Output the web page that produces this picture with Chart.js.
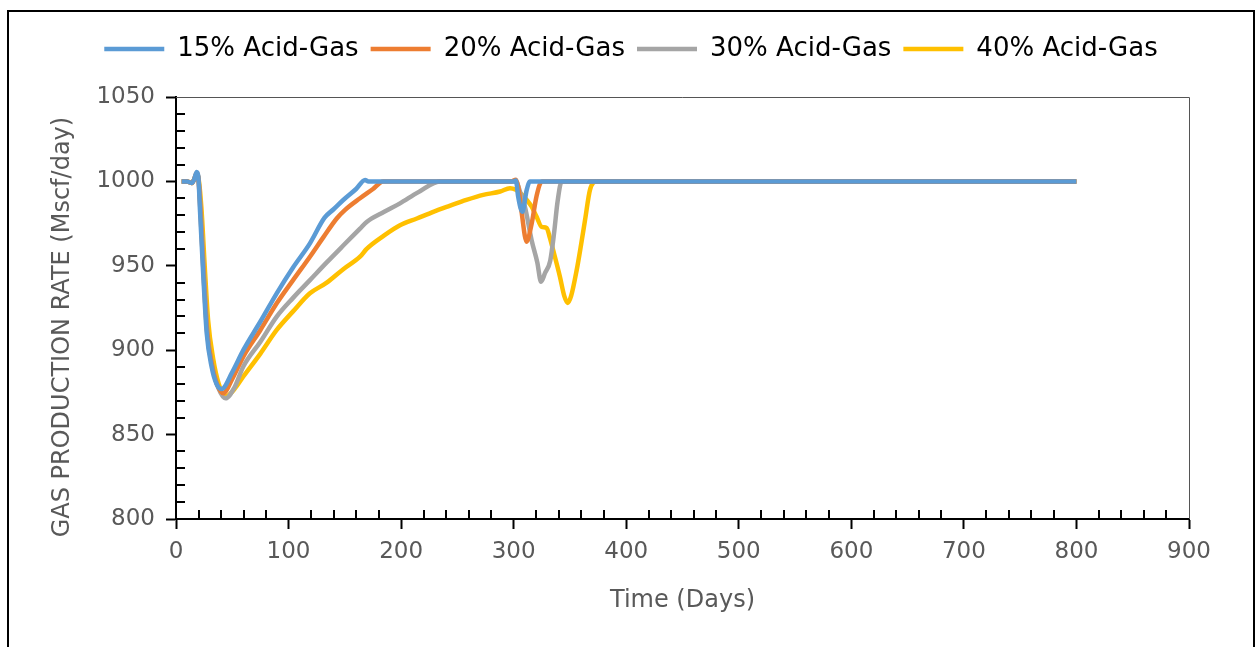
<!DOCTYPE html>
<html>
<head>
<meta charset="utf-8">
<script src="https://cdn.jsdelivr.net/npm/chart.js@4.4.1/dist/chart.umd.min.js"></script>
<style>
  html, body { margin: 0; padding: 0; background: #fff; overflow: hidden; }
  #frame { position: absolute; left: 7px; top: 10px; width: 1244px; height: 700px; border: 2px solid #000; }
  #chart { position: absolute; left: 0; top: 0; }
</style>
</head>
<body>
<div id="frame"></div>
<canvas id="chart" width="1262" height="647"></canvas>
<script>
// Gas production rate vs time
const seriesNames = ['15% Acid-Gas', '20% Acid-Gas', '30% Acid-Gas', '40% Acid-Gas'];
const seriesColors = ['#5B9BD5', '#ED7D31', '#A5A5A5', '#FFC000'];

const days15 = [5, 10, 12, 14, 16, 18.4, 19.8, 21.3, 24.3, 27.3, 31.7, 36, 40.6, 50, 59.8, 75, 89.5, 104, 119, 132, 140, 148.6, 160, 168, 171, 300, 302, 304, 307.7, 311.6, 314.5, 800];
const rate15 = [1000, 1000, 999.5, 999, 1001, 1005.5, 1003, 983, 943.5, 910, 890, 880, 877, 887, 900, 917, 933.7, 949, 963.3, 978.5, 983.5, 989, 995.5, 1000.8, 1000, 1000, 1000.5, 991, 982, 995, 1000, 1000];

const days20 = [5, 10, 12, 14, 16, 18.4, 19.8, 21.5, 24.5, 27.5, 32, 37, 42, 50, 59.8, 75, 89.5, 104, 119, 131, 142.8, 150, 163.5, 175, 184, 298, 302, 304, 307, 311.5, 316, 320.4, 325, 800];
const rate20 = [1000, 1000, 999.5, 999, 1001, 1005, 1002.5, 985, 945, 912, 891, 879, 874.5, 883, 896.2, 912, 927.8, 941.5, 955.4, 967, 978, 983, 990, 995.5, 1000, 1000, 1001, 997, 982, 964.3, 975, 991.5, 1000, 1000];

const days30 = [5, 10, 12, 14, 16, 18.4, 19.8, 22, 25, 28, 32.5, 38, 44, 52, 59.8, 75, 89.5, 104, 119, 133.9, 148.6, 163.5, 169.4, 185, 199, 215, 234.5, 300, 303, 306, 310, 316, 321, 324.3, 328, 332.5, 336, 339, 342.7, 800];
const rate30 = [1000, 1000, 999.5, 999, 1001, 1004.5, 1002.5, 982, 943, 910, 890, 877, 871.5, 878, 890.3, 905, 919.9, 931, 941.5, 952, 962, 972, 976, 982, 987, 993.5, 1000, 1000, 999, 993, 985, 965, 952, 940.6, 946, 953, 970, 988, 1000, 1000];

const days40 = [5, 10, 12, 14, 16, 18.4, 19.8, 22.5, 25.5, 28.5, 33, 38, 44, 52, 59.8, 75, 89.5, 104, 119, 133.9, 148.6, 163.5, 169.4, 185, 199, 214, 228.6, 243, 258, 273, 288, 296.7, 302, 306, 311.6, 316, 320.4, 324.9, 329.3, 332, 335.2, 341.1, 345, 348, 351, 356, 360, 363.4, 367.8, 373.7, 800];
const rate40 = [1000, 1000, 999.5, 999, 1001, 1004, 1002.5, 985, 950, 918, 895, 880, 872.5, 877, 884.4, 898, 912, 923, 933.7, 940, 948, 955.4, 960, 968, 974, 978, 982, 985.5, 989, 992, 994, 996, 995, 993, 989, 985, 979, 973, 972.4, 967, 959, 943.5, 932, 928, 932, 947.5, 963, 977, 995, 1000, 1000];

const xTicks = [0, 100, 200, 300, 400, 500, 600, 700, 800, 900];
const yTicks = [800, 850, 900, 950, 1000, 1050];

const allDays = [days15, days20, days30, days40];
const allRates = [rate15, rate20, rate30, rate40];

const datasets = seriesNames.map((name, i) => ({
  label: name,
  data: allDays[i].map((d, j) => ({ x: d, y: allRates[i][j] })),
  borderColor: seriesColors[i],
  backgroundColor: seriesColors[i],
  borderWidth: 4.5,
  pointRadius: 0,
  cubicInterpolationMode: 'monotone',
  fill: false
}));

// minor ticks inside the plot, plus thin top/right frame
const minorTicks = {
  id: 'minorTicks',
  afterDraw(chart) {
    const ctx = chart.ctx;
    const x = chart.scales.x, y = chart.scales.y;
    const left = x.getPixelForValue(0), right = x.getPixelForValue(900);
    const top = y.getPixelForValue(1050), bottom = y.getPixelForValue(800);
    ctx.save();
    ctx.strokeStyle = '#000';
    ctx.lineWidth = 2;
    ctx.beginPath();
    for (let v = 20; v < 900; v += 20) {
      if (v % 100 === 0) continue;
      const px = Math.round(x.getPixelForValue(v));
      ctx.moveTo(px, bottom);
      ctx.lineTo(px, bottom - 9);
    }
    for (let v = 810; v < 1050; v += 10) {
      if (v % 50 === 0) continue;
      const py = Math.round(y.getPixelForValue(v));
      ctx.moveTo(left, py);
      ctx.lineTo(left + 9, py);
    }
    ctx.stroke();
    ctx.strokeStyle = '#555';
    ctx.lineWidth = 1;
    ctx.beginPath();
    ctx.moveTo(left, Math.round(top) + 0.5);
    ctx.lineTo(Math.round(right) + 0.5, Math.round(top) + 0.5);
    ctx.lineTo(Math.round(right) + 0.5, bottom);
    ctx.stroke();
    ctx.restore();
  }
};

Chart.defaults.font.family = "'DejaVu Sans', sans-serif";

new Chart(document.getElementById('chart'), {
  type: 'line',
  data: { datasets },
  plugins: [minorTicks],
  options: {
    responsive: false,
    animation: false,
    layout: { padding: { left: 0, right: 0, top: 24, bottom: 32 } },
    plugins: {
      legend: {
        position: 'top',
        labels: {
          usePointStyle: true,
          pointStyle: 'line',
          pointStyleWidth: 60,
          boxHeight: 4,
          padding: 12,
          color: '#000',
          font: { size: 26 }
        }
      },
      tooltip: { enabled: false }
    },
    scales: {
      x: {
        type: 'linear',
        min: 0,
        max: 900,
        afterBuildTicks: s => { s.ticks = xTicks.map(v => ({ value: v })); },
        afterFit: s => { s.height = 96; },
        ticks: { color: '#595959', font: { size: 23 }, padding: 9, maxRotation: 0, callback: v => String(v) },
        grid: { drawOnChartArea: false, tickLength: 10, tickColor: '#000', tickWidth: 2 },
        border: { color: '#000', width: 2 },
        title: { display: true, text: 'Time (Days)', color: '#595959', font: { size: 24 }, padding: { top: 0, bottom: 0 } }
      },
      xT: {
        type: 'linear',
        position: 'top',
        display: true,
        afterFit: s => { s.height = 25; },
        ticks: { display: false },
        grid: { display: false },
        border: { display: false }
      },
      y: {
        min: 800,
        max: 1050,
        afterBuildTicks: s => { s.ticks = yTicks.map(v => ({ value: v })); },
        afterFit: s => { s.width = 176; },
        ticks: { color: '#595959', font: { size: 23 }, padding: 11, callback: v => String(v) },
        grid: { drawOnChartArea: false, tickLength: 10, tickColor: '#000', tickWidth: 2 },
        border: { color: '#000', width: 2 },
        title: { display: true, text: 'GAS PRODUCTION RATE (Mscf/day)     ', color: '#595959', font: { size: 24 }, padding: { top: 48, bottom: 0 } }
      },
      yR: {
        position: 'right',
        display: true,
        afterFit: s => { s.width = 73; },
        ticks: { display: false },
        grid: { display: false },
        border: { display: false }
      }
    }
  }
});
</script>
</body>
</html>
